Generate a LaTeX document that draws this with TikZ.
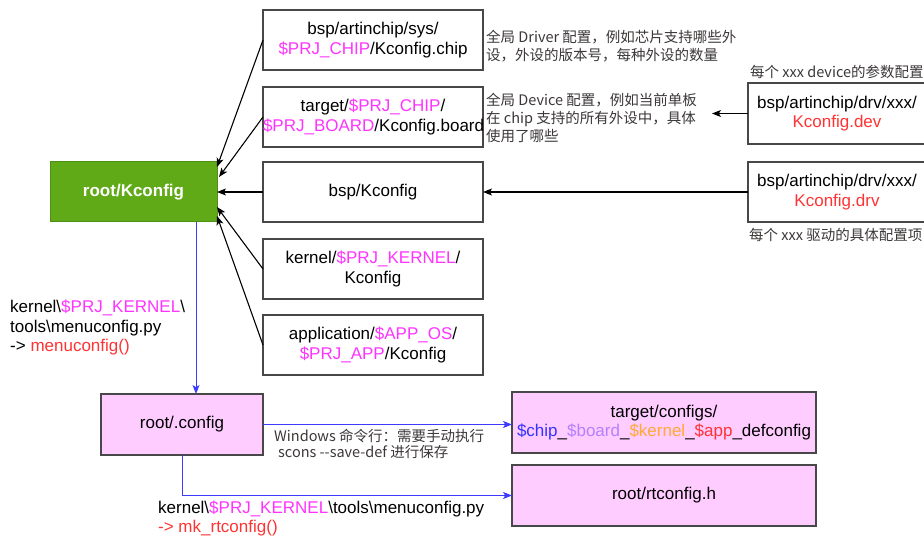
\documentclass[tikz,border=0pt]{standalone}
\usepackage{fontspec}
\setmainfont{Liberation Sans}
\newfontfamily\cjk{Noto Sans CJK SC}
\usetikzlibrary{arrows.meta,calc}
\definecolor{mag}{HTML}{FF33FF}
\definecolor{myred}{HTML}{FF3333}
\definecolor{myblue}{HTML}{3333FF}
\definecolor{mypurple}{HTML}{B380FF}
\definecolor{myorange}{HTML}{FFAA33}
\definecolor{pinkfill}{HTML}{FFCCFF}
\definecolor{greenfill}{HTML}{60A917}
\definecolor{greenline}{HTML}{4F8F14}
\definecolor{boxline}{HTML}{484848}
\definecolor{notecol}{HTML}{3C3838}
\definecolor{lineblue}{HTML}{3C3CFF}
\begin{document}
\begin{tikzpicture}[x=1pt,y=-1pt,
  basefont/.style={font=\fontsize{17}{19.5}\selectfont},
  filebox/.style={basefont, draw=boxline, line width=1.5pt, fill=white,
    minimum width=220pt, minimum height=60pt, text width=220pt,
    align=center, inner sep=0pt, outer sep=0pt},
  pinkbox/.style={filebox, fill=pinkfill},
  greenbox/.style={draw=greenline, line width=1pt, fill=greenfill,
    text=white, font=\fontsize{17}{19.5}\selectfont\bfseries,
    minimum width=167pt, minimum height=60pt, inner sep=0pt, outer sep=0pt},
  note/.style={font=\cjk\fontsize{14.5}{18}\selectfont, text=notecol,
    align=left, anchor=north west, inner sep=0pt, fill=white},
  plainlabel/.style={basefont, align=left, anchor=north west, inner sep=0pt},
  blk/.style={draw=black, line width=1.1pt,
    -{Stealth[length=9pt,width=7pt,inset=2.2pt]}},
  blu/.style={draw=lineblue, line width=1pt,
    -{Stealth[length=9pt,width=7pt,inset=2.2pt]}},
]
\useasboundingbox (0,0) rectangle (924,537);

% boxes
\node[greenbox] (kc) at (133.5,192) {root/Kconfig};
\node[filebox] (b1) at (373,40) {bsp/artinchip/sys/\\\textcolor{mag}{\$PRJ\_CHIP}/Kconfig.chip};
\node[filebox] (b2) at (373,117) {target/\textcolor{mag}{\$PRJ\_CHIP}/\\\textcolor{mag}{\$PRJ\_BOARD}/Kconfig.board};
\node[filebox] (b3) at (373,192) {bsp/Kconfig};
\node[filebox] (b4) at (373,269) {kernel/\textcolor{mag}{\$PRJ\_KERNEL}/\\Kconfig};
\node[filebox] (b5) at (373,345) {application/\textcolor{mag}{\$APP\_OS}/\\\textcolor{mag}{\$PRJ\_APP}/Kconfig};
\node[filebox, minimum width=178pt, text width=178pt, minimum height=61pt] (dev) at (837,113.5)
  {bsp/artinchip/drv/xxx/\\\textcolor{myred}{Kconfig.dev}};
\node[filebox, minimum width=178pt, text width=178pt] (drv) at (837,192)
  {bsp/artinchip/drv/xxx/\\\textcolor{myred}{Kconfig.drv}};
\node[pinkbox, minimum width=162pt, text width=162pt, minimum height=61pt] (rc) at (182,424.5) {root/.config};
\node[pinkbox, minimum width=304pt, text width=304pt, minimum height=61pt] (dc) at (664,422.5)
  {target/configs/\\\textcolor{myblue}{\$chip}\_\textcolor{mypurple}{\$board}\_\textcolor{myorange}{\$kernel}\_\textcolor{myred}{\$app}\_defconfig};
\node[pinkbox, minimum width=304pt, text width=304pt, minimum height=61pt] (rt) at (664,495.5) {root/rtconfig.h};

% notes
\node[note] (n1) at (486,30) {全局 Driver 配置，例如芯片支持哪些外\\设，外设的版本号，每种外设的数量};
\node[note] (n2) at (486,93) {全局 Device 配置，例如当前单板\\在 chip 支持的所有外设中，具体\\使用了哪些};
\node[note] (n3) at (750,65) {每个 xxx device的参数配置};
\node[note] (n4) at (749,228) {每个 xxx 驱动的具体配置项};
\node[note, fill=none, font=\cjk\fontsize{14.5}{16}\selectfont] (n5) at (274,429)
  {Windows 命令行：需要手动执行\\\hspace{4pt}scons -{}-save-def 进行保存};
\node[plainlabel] (l1) at (10,300)
  {kernel\textbackslash\textcolor{mag}{\$PRJ\_KERNEL}\textbackslash\\tools\textbackslash menuconfig.py\\-> \textcolor{myred}{menuconfig()}};
\node[plainlabel, font=\fontsize{17}{18.5}\selectfont] (l2) at (158,501)
  {kernel\textbackslash\textcolor{mag}{\$PRJ\_KERNEL}\textbackslash tools\textbackslash menuconfig.py\\\textcolor{myred}{-> mk\_rtconfig()}};

% connectors
\coordinate (devtip) at (712,113.5);
\coordinate (vx) at (196,0);
\draw[blk] (b1.west) -- ($(kc.east)+(0,-25)$);
\draw[blk] (b2.west) -- ($(kc.east)+(2,-15)$);
\draw[blk] (b3.west) -- (kc.east);
\draw[blk] (b4.west) -- ($(kc.east)+(0,15)$);
\draw[blk] (b5.west) -- ($(kc.east)+(0,24)$);
\draw[blk] (dev.west) -- (devtip);
\draw[blk] (drv.west) -- (b3.east);
\draw[blu] (kc.south -| vx) -- (rc.north -| vx);
\draw[blu] (rc.east) -- (dc.west |- rc.east);
\draw[blu] (rc.south) |- (rt.west);
\end{tikzpicture}
\end{document}
